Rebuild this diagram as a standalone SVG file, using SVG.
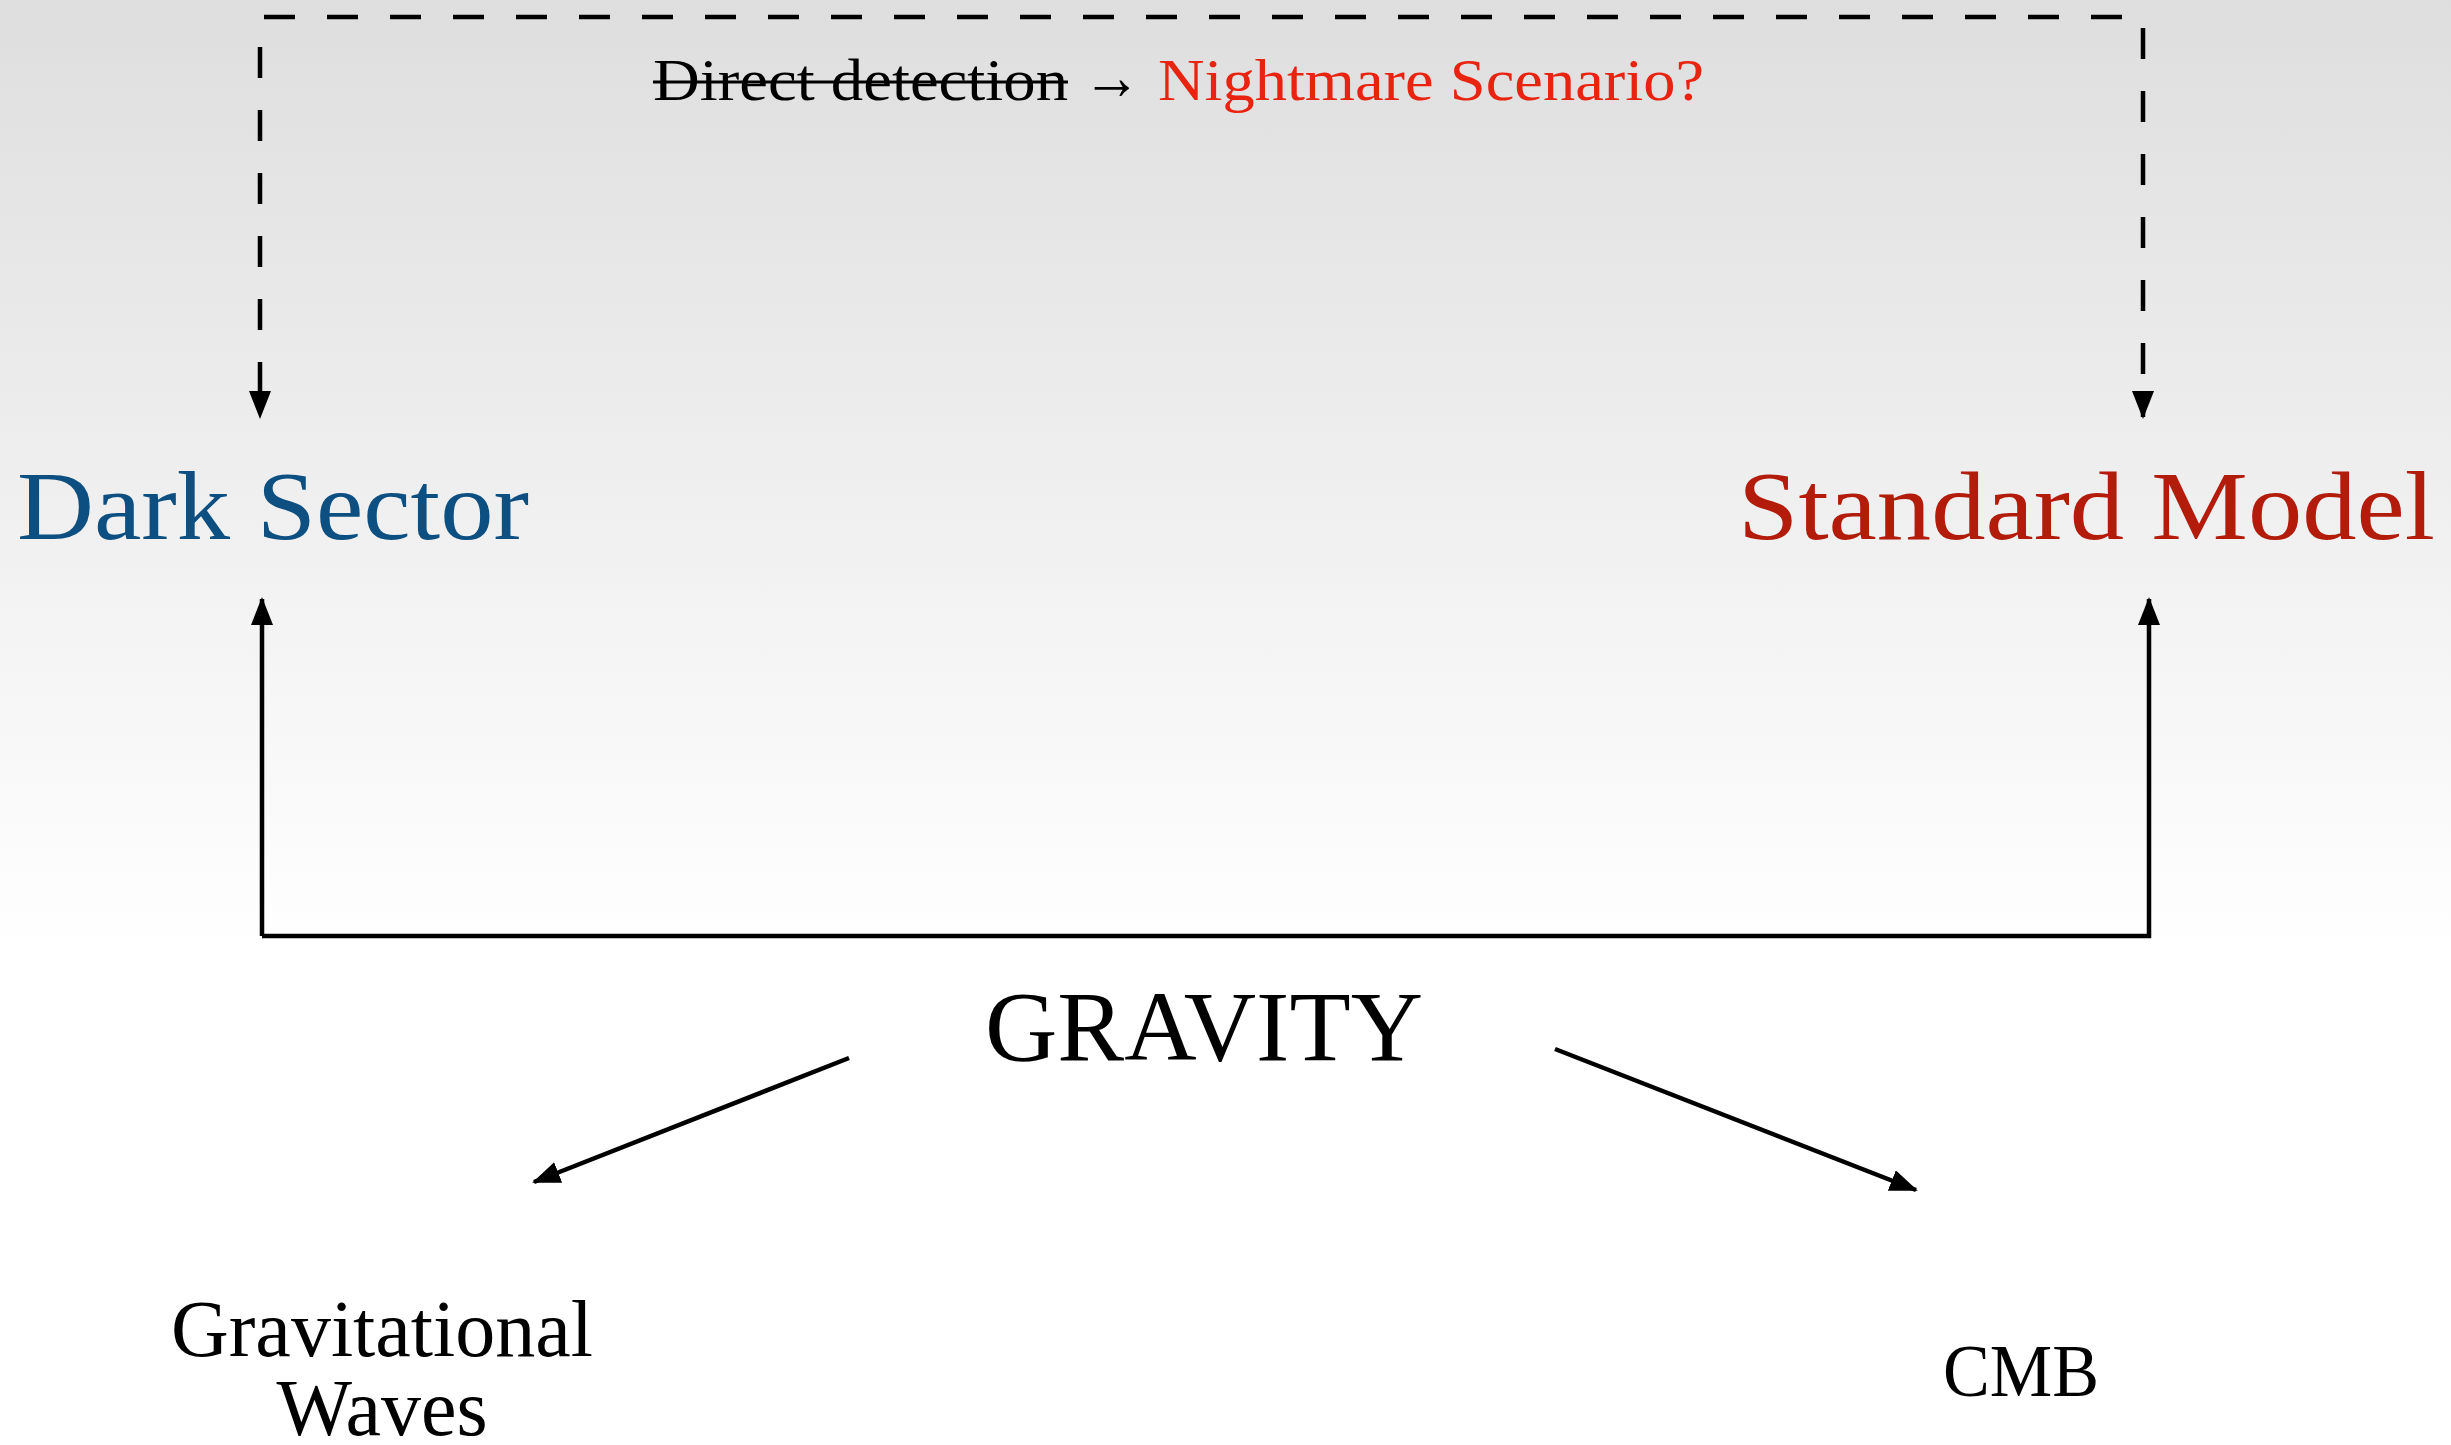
<svg xmlns="http://www.w3.org/2000/svg" width="2451" height="1445" viewBox="0 0 2451 1445">
  <defs>
    <linearGradient id="bg" x1="0" y1="0" x2="0" y2="1">
      <stop offset="0" stop-color="#dedede"/>
      <stop offset="0.66" stop-color="#ffffff"/>
      <stop offset="1" stop-color="#ffffff"/>
    </linearGradient>
    <marker id="ah" markerUnits="userSpaceOnUse" markerWidth="28" markerHeight="22" refX="26" refY="11" orient="auto">
      <path d="M0,0 L28,11 L0,22 Z" fill="#000"/>
    </marker>
    <style>
      .serif { font-family: "Liberation Serif", "DejaVu Serif", serif; }
      .solid { fill: none; stroke: #000; stroke-width: 4.5; }
      .dash { fill: none; stroke: #000; stroke-width: 4.5; stroke-dasharray: 31 32; }
    </style>
  </defs>
  <rect x="0" y="0" width="2451" height="1445" fill="url(#bg)"/>

  <g id="connectors">
    <!-- dashed top connection -->
    <path class="dash" d="M264,17 L2143,17 L2143,417" marker-end="url(#ah)"/>
    <path class="dash" d="M260,47 L260,417" marker-end="url(#ah)"/>
    <!-- solid gravity connection -->
    <path class="solid" d="M262,936 L262,599" marker-end="url(#ah)"/>
    <path class="solid" d="M262,936 L2149,936 L2149,599" marker-end="url(#ah)"/>
    <!-- diagonal arrows -->
    <path class="solid" d="M849,1058 L534,1182" marker-end="url(#ah)"/>
    <path class="solid" d="M1555,1049 L1916,1190" marker-end="url(#ah)"/>
  </g>

  <g id="label-direct">
    <text class="serif" x="653" y="100" font-size="60" textLength="415" lengthAdjust="spacingAndGlyphs" fill="#000">Direct detection</text>
    <line x1="653" y1="82" x2="1068" y2="82" stroke="#000" stroke-width="3"/>
    <text class="serif" x="1083" y="99" font-size="66" textLength="58" lengthAdjust="spacingAndGlyphs" fill="#000">→</text>
    <text class="serif" x="1158" y="100" font-size="60" textLength="546" lengthAdjust="spacingAndGlyphs" fill="#e8230f">Nightmare Scenario?</text>
  </g>

  <g id="node-dark-sector">
    <text class="serif" x="17" y="539" font-size="98" textLength="512" lengthAdjust="spacingAndGlyphs" fill="#0c4f80">Dark Sector</text>
  </g>

  <g id="node-standard-model">
    <text class="serif" x="1738" y="539" font-size="98" textLength="697" lengthAdjust="spacingAndGlyphs" fill="#b31b0b">Standard Model</text>
  </g>

  <g id="node-gravity">
    <text class="serif" x="985" y="1060" font-size="100" textLength="438" lengthAdjust="spacingAndGlyphs" fill="#000">GRAVITY</text>
  </g>

  <g id="node-gw">
    <text class="serif" x="382" y="1356" font-size="80" text-anchor="middle" fill="#000">Gravitational</text>
    <text class="serif" x="382" y="1435" font-size="80" text-anchor="middle" fill="#000">Waves</text>
  </g>

  <g id="node-cmb">
    <text class="serif" x="1943" y="1396" font-size="74" textLength="156" lengthAdjust="spacingAndGlyphs" fill="#000">CMB</text>
  </g>
</svg>
